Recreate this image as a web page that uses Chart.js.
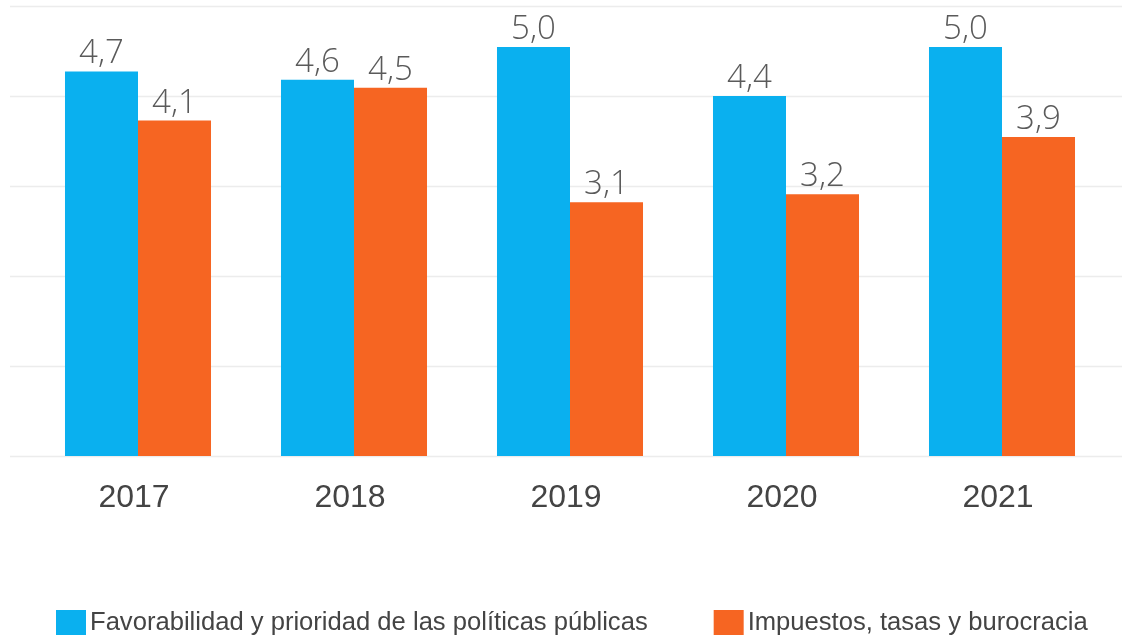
<!DOCTYPE html>
<html>
<head>
<meta charset="utf-8">
<script src="https://cdn.jsdelivr.net/npm/chart.js@4/dist/chart.umd.min.js"></script>
<style>
  html, body { margin: 0; padding: 0; background: #ffffff; }
  #wrap { width: 1122px; height: 635px; position: relative; }
</style>
</head>
<body>
<div id="wrap"><canvas id="c" width="1122" height="635"></canvas></div>
<script>
const categories = ['2017', '2018', '2019', '2020', '2021'];
const favorabilidad = [4.7, 4.6, 5.0, 4.4, 5.0];
const impuestos = [4.1, 4.5, 3.1, 3.2, 3.9];
const seriesNames = ['Favorabilidad y prioridad de las políticas públicas', 'Impuestos, tasas y burocracia'];
const gridValues = [0, 1.1, 2.2, 3.3, 4.4, 5.5];

const BLUE = '#0AB0EF';
const ORANGE = '#F66522';

const customDraw = {
  id: 'customDraw',
  beforeDatasetsDraw(chart) {
    const ctx = chart.ctx;
    const y = chart.scales.y;
    ctx.save();
    ctx.strokeStyle = '#ececec';
    ctx.lineWidth = 1.5;
    gridValues.forEach(v => {
      const py = Math.round(y.getPixelForValue(v)) + 0.5;
      ctx.beginPath();
      ctx.moveTo(10, py);
      ctx.lineTo(chart.width, py);
      ctx.stroke();
    });
    ctx.restore();
  },
  afterDatasetsDraw(chart) {
    const ctx = chart.ctx;
    ctx.save();
    ctx.font = '300 33px "Open Sans"';
    ctx.fillStyle = '#5a5a5a';
    ctx.textAlign = 'center';
    ctx.textBaseline = 'alphabetic';
    chart.data.datasets.forEach((ds, di) => {
      const meta = chart.getDatasetMeta(di);
      meta.data.forEach((bar, i) => {
        const txt = ds.data[i].toFixed(1).replace('.', ',');
        ctx.fillText(txt, bar.x, bar.y - 8);
      });
    });
    // legend
    ctx.font = '25.6px "Liberation Sans", Arial, sans-serif';
    ctx.textAlign = 'left';
    ctx.textBaseline = 'alphabetic';
    let x = 56;
    const boxW = 30, boxTop = 610, boxH = 25, gap = 4, itemGap = 66, baseline = 630;
    chart.data.datasets.forEach(ds => {
      ctx.fillStyle = ds.backgroundColor;
      ctx.fillRect(x, boxTop, boxW, boxH);
      ctx.fillStyle = '#444444';
      ctx.fillText(ds.label, x + boxW + gap, baseline);
      x += boxW + gap + ctx.measureText(ds.label).width + itemGap;
    });
    ctx.restore();
  }
};

new Chart(document.getElementById('c'), {
  type: 'bar',
  data: {
    labels: categories,
    datasets: [
      { label: seriesNames[0], data: favorabilidad, backgroundColor: BLUE, borderWidth: 0 },
      { label: seriesNames[1], data: impuestos, backgroundColor: ORANGE, borderWidth: 0 }
    ]
  },
  options: {
    responsive: false,
    animation: false,
    devicePixelRatio: 1,
    layout: { padding: { left: 0, right: 12, top: 6, bottom: 0 } },
    datasets: { bar: { categoryPercentage: 0.676, barPercentage: 1.0 } },
    plugins: {
      legend: { display: false },
      tooltip: { enabled: false },
      title: { display: false }
    },
    scales: {
      x: {
        grid: { display: false, drawTicks: false },
        border: { display: false },
        ticks: {
          color: '#444444',
          font: { family: '"Liberation Sans", Arial, sans-serif', size: 32 },
          padding: 23,
          labelOffset: -4
        },
        afterFit(scale) { scale.height = 179; }
      },
      y: {
        min: 0,
        max: 5.5,
        grid: { display: false, drawTicks: false },
        border: { display: false },
        ticks: { display: false, stepSize: 1.1 },
        afterFit(scale) { scale.width = 30; }
      }
    }
  },
  plugins: [customDraw]
});
</script>
</body>
</html>
